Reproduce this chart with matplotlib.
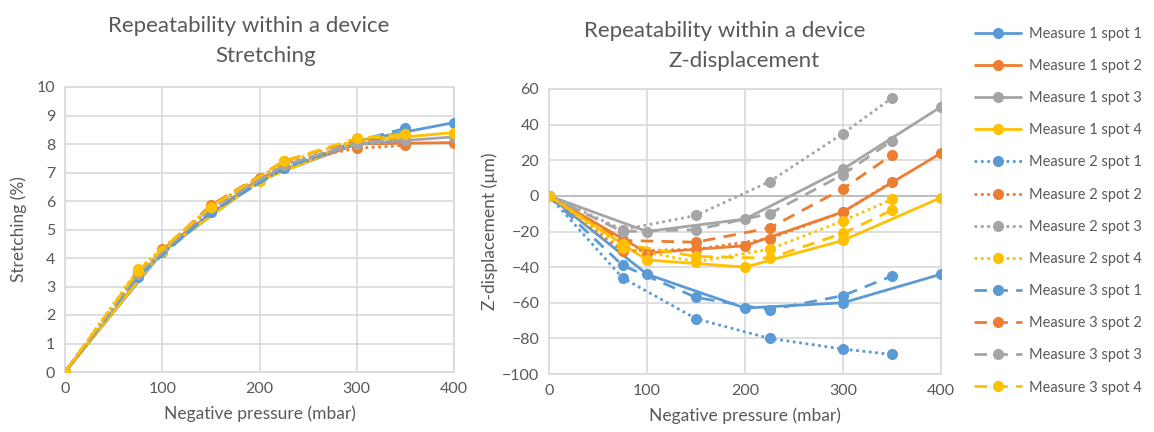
import matplotlib
matplotlib.use("Agg")
import matplotlib.pyplot as plt

# ---------------- data ----------------
x_m1 = [0, 100, 200, 300, 400]
x_m23 = [0, 75, 150, 225, 300, 350]

spots = ["spot 1", "spot 2", "spot 3", "spot 4"]

# Stretching (%)
str_m1 = [
    [0, 4.20, 6.75, 8.10, 8.75],
    [0, 4.30, 6.80, 8.00, 8.05],
    [0, 4.25, 6.75, 8.00, 8.25],
    [0, 4.25, 6.70, 8.10, 8.40],
]
str_m2 = [
    [0, 3.40, 5.60, 7.15, 8.00, 8.10],
    [0, 3.45, 5.80, 7.35, 7.85, 7.95],
    [0, 3.45, 5.75, 7.25, 8.00, 8.10],
    [0, 3.60, 5.80, 7.35, 8.15, 8.30],
]
str_m3 = [
    [0, 3.35, 5.60, 7.15, 8.10, 8.55],
    [0, 3.50, 5.85, 7.40, 8.15, 8.10],
    [0, 3.45, 5.75, 7.25, 8.05, 8.15],
    [0, 3.55, 5.80, 7.40, 8.20, 8.35],
]

# Z-displacement (um)
z_m1 = [
    [0, -44, -63, -60, -44],
    [0, -32, -28, -9, 24],
    [0, -20, -13, 15, 50],
    [0, -36, -40, -25, -1],
]
z_m2 = [
    [0, -46, -69, -80, -86, -89],
    [0, -31, -30, -24, -9, 8],
    [0, -19, -11, 8, 35, 55],
    [0, -29, -37, -30, -14, -2],
]
z_m3 = [
    [0, -39, -57, -64, -56, -45],
    [0, -25, -26, -18, 4, 23],
    [0, -20, -19, -10, 12, 31],
    [0, -27, -34, -35, -21, -8],
]

x_ticks = [0, 100, 200, 300, 400]
str_ticks = list(range(0, 11))
z_ticks = list(range(-100, 61, 20))

# ---------------- style ----------------
colors = ["#5B9BD5", "#ED7D31", "#A5A5A5", "#FFC000"]
txt = "#595959"
grid_c = "#D9D9D9"
FONT = "Lato"
plt.rcParams["font.family"] = [FONT, "DejaVu Sans"]

styles = {
    1: "-",
    2: (0, (1, 1.3)),
    3: (0, (4.5, 3)),
}

W, H = 1154, 432
fig = plt.figure(figsize=(W / 100, H / 100), dpi=100)

ax1 = fig.add_axes([65 / W, 1 - 372 / H, (454 - 65) / W, (372 - 87) / H])
ax2 = fig.add_axes([549 / W, 1 - 374 / H, (941 - 549) / W, (374 - 89) / H])


def style_axes(ax, yticks, ylim):
    ax.set_xlim(0, 400)
    ax.set_ylim(*ylim)
    ax.set_xticks(x_ticks)
    ax.set_yticks(yticks)
    ax.grid(True, color=grid_c, linewidth=1.2)
    ax.set_axisbelow(True)
    for s in ax.spines.values():
        s.set_color(grid_c)
        s.set_linewidth(1.2)
    ax.tick_params(length=0, labelsize=11.5, labelcolor=txt, pad=7)
    ax.set_xlabel("Negative pressure (mbar)", fontsize=12.5, color=txt, labelpad=7)


handles = []
labels = []


def plot_series(ax, data_m1, data_m2, data_m3, collect=False):
    for m, (xs, data) in enumerate([(x_m1, data_m1), (x_m23, data_m2), (x_m23, data_m3)], start=1):
        for i, ys in enumerate(data):
            ln, = ax.plot(xs, ys, color=colors[i], linestyle=styles[m], linewidth=2,
                          marker="o", markersize=8, markeredgewidth=0, zorder=3,
                          solid_capstyle="butt", dash_capstyle="butt")
            if collect:
                handles.append(ln)
                labels.append(f"Measure {m} {spots[i]}")


style_axes(ax1, str_ticks, (0, 10))
plot_series(ax1, str_m1, str_m2, str_m3)
ax1.set_ylabel("Stretching (%)", fontsize=12.5, color=txt, labelpad=7)

style_axes(ax2, z_ticks, (-100, 60))
ax2.axhline(0, color="#BFBFBF", linewidth=1.5, zorder=2)
plot_series(ax2, z_m1, z_m2, z_m3, collect=True)
ax2.set_ylabel("Z-displacement (µm)", fontsize=12.5, color=txt, labelpad=3)

# titles
fig.text(249 / W, 1 - 26 / H, "Repeatability within a device", ha="center", va="center",
         fontsize=16, color=txt)
fig.text(266 / W, 1 - 56 / H, "Stretching", ha="center", va="center", fontsize=16, color=txt)
fig.text(725 / W, 1 - 31 / H, "Repeatability within a device", ha="center", va="center",
         fontsize=16, color=txt)
fig.text(744 / W, 1 - 61 / H, "Z-displacement", ha="center", va="center", fontsize=16, color=txt)

leg = fig.legend(handles, labels, loc="upper left", bbox_to_anchor=(968 / W, 1 - 21 / H),
                 frameon=False, fontsize=10.5, handlelength=3.3, handletextpad=0.45,
                 labelspacing=1.245, borderaxespad=0)
for t in leg.get_texts():
    t.set_color(txt)

fig.savefig("out.png", dpi=100, facecolor="white")
